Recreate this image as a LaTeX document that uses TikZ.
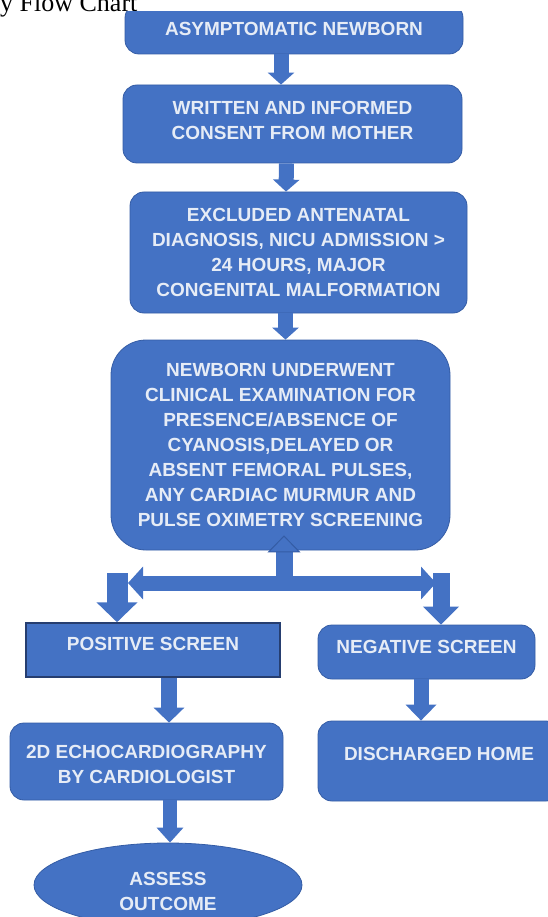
\documentclass[tikz,border=0pt]{standalone}
\usepackage{fontspec}
\setmainfont{Liberation Sans}
\newfontfamily\titlefont{Liberation Serif}
\usetikzlibrary{arrows.meta,shapes.geometric}

\definecolor{boxblue}{RGB}{68,114,196}
\definecolor{boxedge}{RGB}{52,92,165}
\definecolor{edgedark}{RGB}{38,62,112}
\definecolor{boxtext}{RGB}{230,236,246}

\tikzstyle{stepbox}=[rectangle,rounded corners=14pt,fill=boxblue,draw=boxedge,line width=0.8pt,align=center,text=boxtext,font=\bfseries\fontsize{19}{25}\selectfont,inner sep=0pt]
\tikzstyle{endbox}=[ellipse,fill=boxblue,draw=boxedge,line width=0.8pt,align=center,text=boxtext,font=\bfseries\fontsize{19}{25}\selectfont,inner sep=0pt]
\tikzstyle{blockarrow}=[draw=boxblue,line width=15pt,-{Triangle[width=26pt,length=12pt]}]

\begin{document}
\begin{tikzpicture}[x=1pt,y=-1pt]
	\clip (0,0) rectangle (548,917);
	\node[anchor=base west,inner sep=0pt,font=\titlefont\fontsize{26}{30}\selectfont] (title) at (0,12) {y Flow Chart};

	% top box (cut off by the page edge)
	\begin{scope}
		\clip (0,12) rectangle (548,917);
		\node[stepbox,minimum width=338pt,minimum height=50pt] (newborn) at (294,29) {ASYMPTOMATIC NEWBORN};
	\end{scope}
	\node[stepbox,minimum width=339pt,minimum height=78pt,text depth=8pt] (consent) at (292.5,124) {WRITTEN AND INFORMED\\CONSENT FROM MOTHER};
	\node[stepbox,minimum width=337pt,minimum height=121pt] (excluded) at (298.5,252.5) {EXCLUDED ANTENATAL\\DIAGNOSIS, NICU ADMISSION >\\24 HOURS, MAJOR\\CONGENITAL MALFORMATION};
	\node[stepbox,rounded corners=35pt,minimum width=339pt,minimum height=210pt] (exam) at (280.5,445) {NEWBORN UNDERWENT\\CLINICAL EXAMINATION FOR\\PRESENCE/ABSENCE OF\\CYANOSIS,DELAYED OR\\ABSENT FEMORAL PULSES,\\ANY CARDIAC MURMUR AND\\PULSE OXIMETRY SCREENING};

	% screens
	\node[stepbox,rounded corners=0pt,draw=edgedark,line width=1.5pt,minimum width=254pt,minimum height=54pt,text depth=12pt] (positive) at (153,650) {POSITIVE SCREEN};
	\node[stepbox,minimum width=217pt,minimum height=54pt,text depth=10pt] (negative) at (426.5,652) {NEGATIVE SCREEN};
	\node[stepbox,minimum width=273pt,minimum height=77pt,text height=44pt] (echo) at (146.5,761.5) {2D ECHOCARDIOGRAPHY\\BY CARDIOLOGIST};
	\node[stepbox,minimum width=242pt,minimum height=80pt,text depth=14pt] (home) at (439,761) {DISCHARGED HOME};
	\node[endbox,minimum width=268pt,minimum height=84pt,text height=52pt] (outcome) at (168,885) {ASSESS\\OUTCOME};

	% arrows
	\draw[blockarrow] ([xshift=-13pt]newborn.south) -- ([xshift=-11.5pt]consent.north);
	\draw[blockarrow] ([xshift=-6pt]consent.south) -- ([xshift=-12.5pt]excluded.north);
	\draw[blockarrow] ([xshift=-13pt]excluded.south) -- ([xshift=5pt]exam.north);

	% split
	\coordinate (split) at (284,583);
	\coordinate (lefttip) at (128,583);
	\coordinate (righttip) at (436,583);
	\coordinate (leftdrop) at (117,573);
	\coordinate (rightdrop) at (441,573);
	\draw[blockarrow,{Triangle[width=32pt,length=15pt]}-{Triangle[width=32pt,length=15pt]}] (lefttip) -- (righttip);
	\draw[blockarrow,line width=17pt,-{Triangle[width=33pt,length=17pt,line width=1pt,color=boxedge,fill=boxblue]}] (split) -- ([xshift=3.5pt,yshift=15pt]exam.south);
	\draw[blockarrow,line width=21pt,-{Triangle[width=40pt,length=20pt]}] (leftdrop) -- (leftdrop |- positive.north);
	\draw[blockarrow,line width=17pt,-{Triangle[width=35pt,length=18pt]}] (rightdrop) -- (rightdrop |- negative.north);

	\draw[blockarrow,line width=16pt,-{Triangle[width=30pt,length=15pt]}] ([xshift=16pt]positive.south) -- ([xshift=22.5pt]echo.north);
	\draw[blockarrow,line width=15pt,-{Triangle[width=30pt,length=16pt]}] ([xshift=-5.5pt]negative.south) -- ([xshift=-18pt]home.north);
	\draw[blockarrow,line width=14pt,-{Triangle[width=26pt,length=15pt]}] ([xshift=23.5pt]echo.south) -- ([xshift=2pt]outcome.north);
\end{tikzpicture}
\end{document}
